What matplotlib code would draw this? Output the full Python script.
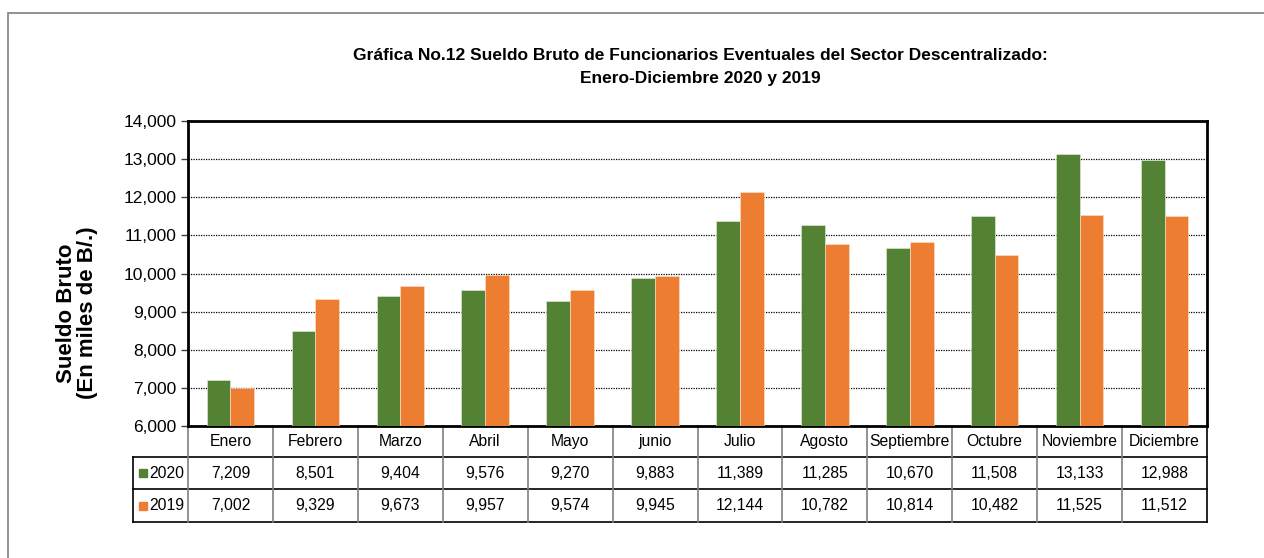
import matplotlib
matplotlib.use("Agg")
import matplotlib.pyplot as plt
import matplotlib.transforms as mtransforms
from matplotlib.patches import Rectangle
import numpy as np

plt.rcParams['font.family'] = ['Liberation Sans', 'DejaVu Sans']

months = ["Enero", "Febrero", "Marzo", "Abril", "Mayo", "junio", "Julio",
          "Agosto", "Septiembre", "Octubre", "Noviembre", "Diciembre"]
vals_2020 = [7209, 8501, 9404, 9576, 9270, 9883, 11389, 11285, 10670, 11508, 13133, 12988]
vals_2019 = [7002, 9329, 9673, 9957, 9574, 9945, 12144, 10782, 10814, 10482, 11525, 11512]
series_names = ["2020", "2019"]
colors = ["#548235", "#ED7D31"]
yticks = [6000, 7000, 8000, 9000, 10000, 11000, 12000, 13000, 14000]

W, H = 1264, 558
fig = plt.figure(figsize=(W / 100, H / 100), dpi=100)

# outer border
fig.patches.append(Rectangle((8 / W, -0.1), 1.2, 1 - 13 / H + 0.1, transform=fig.transFigure,
                             fill=False, edgecolor="#7f7f7f", lw=1.2))

ax = fig.add_axes([188 / W, 1 - 426 / H, (1207 - 188) / W, (426 - 121) / H])

x = np.arange(len(months))
bw = 0.28
ax.bar(x - bw / 2, vals_2020, width=bw, color=colors[0], edgecolor="#e6ede0", linewidth=0.4, zorder=3)
ax.bar(x + bw / 2, vals_2019, width=bw, color=colors[1], edgecolor="#fbe3d2", linewidth=0.4, zorder=3)

ax.set_xlim(-0.5, len(months) - 0.5)
ax.set_ylim(6000, 14000)
ax.set_yticks(yticks)
ax.set_yticklabels([f"{v:,}" for v in yticks], fontsize=12.5)
ax.set_xticks([])
ax.tick_params(axis="y", length=5, width=1, pad=3.5, color="#404040")
ax.grid(axis="y", linestyle=(0, (1, 1)), color="black", lw=0.9, zorder=1)
for s in ax.spines.values():
    s.set_linewidth(2)
    s.set_color("black")

fig.text(700 / W, 1 - 55 / H,
         "Gráfica No.12 Sueldo Bruto de Funcionarios Eventuales del Sector Descentralizado:",
         ha="center", va="center", fontsize=12.5, fontweight="bold")
fig.text(700 / W, 1 - 78 / H, "Enero-Diciembre 2020 y 2019",
         ha="center", va="center", fontsize=12.5, fontweight="bold")

fig.text(77 / W, 1 - 313 / H, "Sueldo Bruto\n(En miles de B/.)", rotation=90,
         ha="center", va="center", fontsize=16, fontweight="bold", linespacing=1.0)

# data table below the axes
trans = mtransforms.blended_transform_factory(ax.transData, ax.transAxes)
ph = 305.0
y_hdr = -(457 - 426) / ph
y_r1 = -(489 - 426) / ph
y_r2 = -(522 - 426) / ph
x_left = -0.5 + (133 - 188) / ((1207 - 188) / 12)
x_right = len(months) - 0.5

kw = dict(transform=trans, clip_on=False)
for yy in (y_hdr, y_r1, y_r2):
    ax.plot([x_left, x_right], [yy, yy], color="black", lw=1.2, **kw)
ax.plot([x_left, x_left], [y_hdr, y_r2], color="black", lw=1.2, **kw)
ax.plot([x_right, x_right], [0, y_r2], color="black", lw=1.2, **kw)
for b in np.arange(-0.5, len(months) - 0.5, 1.0):
    ax.plot([b, b], [0, y_r2], color="#808080", lw=1.2, **kw)

fs = 11.3
for i, m in enumerate(months):
    ax.text(i, (0 + y_hdr) / 2, m, ha="center", va="center", fontsize=fs, **kw)
    ax.text(i, (y_hdr + y_r1) / 2, f"{vals_2020[i]:,}", ha="center", va="center", fontsize=fs, **kw)
    ax.text(i, (y_r1 + y_r2) / 2, f"{vals_2019[i]:,}", ha="center", va="center", fontsize=fs, **kw)

ycent = [(y_hdr + y_r1) / 2, (y_r1 + y_r2) / 2]
xsq = x_left + (143 - 133) / ((1207 - 188) / 12)
xtx = x_left + (149 - 133) / ((1207 - 188) / 12)
for name, c, yc in zip(series_names, colors, ycent):
    ax.plot([xsq], [yc], marker="s", markersize=6, color=c, linestyle="none", **kw)
    ax.text(xtx, yc, name, ha="left", va="center", fontsize=fs, **kw)

fig.savefig("out.png", dpi=100)
